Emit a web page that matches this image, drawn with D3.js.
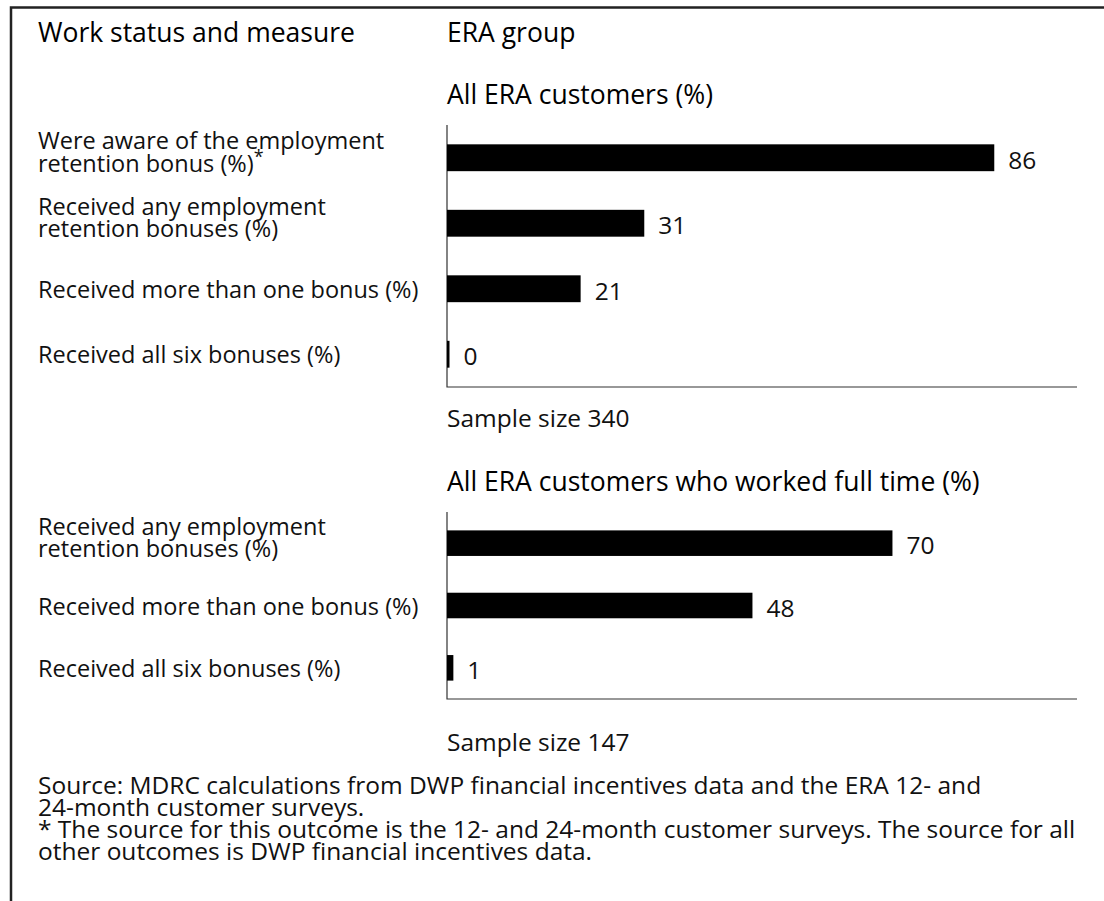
<!DOCTYPE html>
<html>
<head>
<meta charset="utf-8">
<title>ERA bonus receipt</title>
<style>
  body{ margin:0; background:#fff; }
  svg text{ font-family:"Open Sans", "Noto Sans", sans-serif; font-size:23.5px; fill:#111; }
  .head{ fill:#000; font-size:26.5px; }
  .note, .value{ font-size:24.5px; }
  .bar{ fill:#000; }
  .axis{ stroke:#333; stroke-width:1.2; fill:none; }
  .frame{ stroke:#222; stroke-width:2.5; fill:none; }
</style>
</head>
<body>
<script src="https://cdn.jsdelivr.net/npm/d3@7"></script>
<script>
var width = 1104, height = 901;

// chart data
var panel1Title = "All ERA customers (%)";
var panel1Labels = [["Were aware of the employment", "retention bonus (%)"],
                    ["Received any employment", "retention bonuses (%)"],
                    ["Received more than one bonus (%)"],
                    ["Received all six bonuses (%)"]];
var panel1Values = [86, 31, 21, 0];
var panel1Sample = "Sample size 340";

var panel2Title = "All ERA customers who worked full time (%)";
var panel2Labels = [["Received any employment", "retention bonuses (%)"],
                    ["Received more than one bonus (%)"],
                    ["Received all six bonuses (%)"]];
var panel2Values = [70, 48, 1];
var panel2Sample = "Sample size 147";

var footnotes = ["Source: MDRC calculations from DWP financial incentives data and the ERA 12- and",
                 "24-month customer surveys.",
                 "* The source for this outcome is the 12- and 24-month customer surveys. The source for all",
                 "other outcomes is DWP financial incentives data."];

var svg = d3.select("body").append("svg")
            .attr("width", width)
            .attr("height", height);

// frame (top and left rule)
svg.append("path").attr("class", "frame")
   .attr("d", "M11," + height + "V7.5H" + width);

var labelX = 38, axisX = 447;
var x = d3.scaleLinear().domain([0, 99]).range([axisX, 1077]);

svg.append("text").attr("class", "head").attr("x", labelX).attr("y", 42).text("Work status and measure");
svg.append("text").attr("class", "head").attr("x", axisX).attr("y", 42).text("ERA group");

function drawPanel(title, titleY, labels, values, top, bottom, sample, sampleY){
    svg.append("text").attr("class", "head").attr("x", axisX).attr("y", titleY).text(title);

    var y = d3.scaleBand().domain(d3.range(values.length))
              .range([top, bottom]).paddingInner(0.59).paddingOuter(0.295);

    // axis lines
    svg.append("path").attr("class", "axis")
       .attr("d", "M" + axisX + "," + top + "V" + bottom + "H" + x.range()[1]);

    svg.selectAll(null).data(values).enter().append("rect")
       .attr("class", "bar")
       .attr("x", x(0))
       .attr("y", function(d, i){ return y(i); })
       .attr("height", y.bandwidth())
       .attr("width", function(d){ return Math.max(x(d) - x(0), 2.5); });

    svg.selectAll(null).data(values).enter().append("text")
       .attr("class", "value")
       .attr("x", function(d){ return Math.max(x(d), x(0) + 2.5) + 14; })
       .attr("y", function(d, i){ return y(i) + y.bandwidth() / 2 + 11; })
       .text(function(d){ return d; });

    labels.forEach(function(lines, i){
        var c = y(i) + y.bandwidth() / 2;
        var t = svg.append("text").attr("x", labelX);
        var first = lines.length == 1 ? c + 9 : c - 8.5;
        lines.forEach(function(s, k){
            t.append("tspan").attr("x", labelX).attr("y", first + k * 22.5).text(s);
        });
        return t;
    });

    svg.append("text").attr("class", "note").attr("x", axisX).attr("y", sampleY).text(sample);
    return y;
}

drawPanel(panel1Title, 104, panel1Labels, panel1Values, 125, 387, panel1Sample, 427);
drawPanel(panel2Title, 491, panel2Labels, panel2Values, 512, 699, panel2Sample, 751);

// asterisk on the first label
var lab = svg.selectAll("tspan").filter(function(){ return this.textContent == "retention bonus (%)"; });
lab.each(function(){
    d3.select(this.parentNode).append("tspan").attr("dy", -9).attr("font-size", "18px").text("*");
});

svg.selectAll(null).data(footnotes).enter().append("text")
   .attr("class", "note")
   .attr("x", labelX)
   .attr("y", function(d, i){ return 794 + i * 22; })
   .text(function(d){ return d; });
</script>
</body>
</html>
